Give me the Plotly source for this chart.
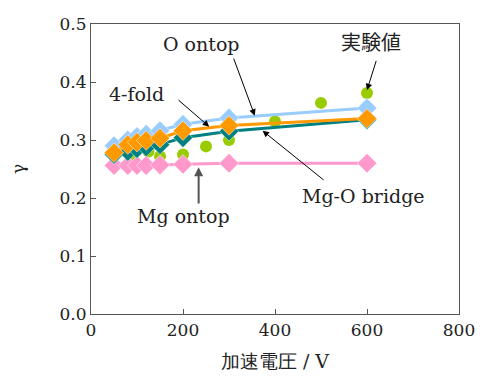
import plotly.graph_objects as go

# Acceleration voltage (V) for the calculated adsorption sites
voltage = [50, 80, 100, 120, 150, 200, 300, 600]
o_ontop = [0.290, 0.300, 0.306, 0.310, 0.316, 0.327, 0.338, 0.355]
four_fold = [0.278, 0.292, 0.296, 0.299, 0.303, 0.316, 0.325, 0.337]
mgo_bridge = [0.275, 0.280, 0.285, 0.288, 0.292, 0.304, 0.315, 0.335]
mg_ontop = [0.256, 0.256, 0.256, 0.256, 0.257, 0.258, 0.260, 0.260]

# Measured secondary electron yield
exp_voltage = [90, 125, 150, 200, 250, 300, 400, 500, 600]
exp_gamma = [0.275, 0.280, 0.272, 0.275, 0.289, 0.300, 0.332, 0.364, 0.381]

x_ticks = [0, 200, 400, 600, 800]
y_ticks = [0.0, 0.1, 0.2, 0.3, 0.4, 0.5]

SERIF = "DejaVu Serif"
CJK = "Noto Sans CJK JP"
INK = "#222222"

fig = go.Figure()

fig.add_trace(go.Scatter(
    x=exp_voltage, y=exp_gamma, mode="markers",
    marker=dict(symbol="circle", size=12, color="#99CC00"),
    name="実験値"))

series = [
    ("Mg ontop", mg_ontop, "#FF99CC"),
    ("O ontop", o_ontop, "#99CCFF"),
    ("Mg-O bridge", mgo_bridge, "#008080"),
    ("4-fold", four_fold, "#FF9900"),
]
for name, vals, col in series:
    fig.add_trace(go.Scatter(
        x=voltage, y=vals, mode="lines+markers", name=name,
        line=dict(color=col, width=3),
        marker=dict(symbol="diamond", size=15, color=col,
                    line=dict(color="white", width=0.5))))

# Labels, with arrows pointing at their curves
labels = [
    ("O ontop", 240, 0.465, SERIF, 19),
    ("実験値", 608, 0.470, CJK, 20),
    ("4-fold", 99, 0.380, SERIF, 19),
    ("Mg-O bridge", 592, 0.203, SERIF, 19),
    ("Mg ontop", 200, 0.169, SERIF, 19),
]
for text, x, y, fam, size in labels:
    fig.add_annotation(x=x, y=y, text=text, showarrow=False,
                       font=dict(family=fam, size=size, color=INK))

arrows = [
    (309, 0.443, 356, 0.342, "black", 1),
    (621, 0.439, 600, 0.386, "black", 1),
    (187, 0.371, 257, 0.323, "black", 1),
    (509, 0.229, 373, 0.316, "black", 1),
    (234, 0.188, 234, 0.253, "#555555", 2),
]
for tx, ty, hx, hy, col, w in arrows:
    fig.add_annotation(x=hx, y=hy, ax=tx, ay=ty, axref="x", ayref="y",
                       text="", showarrow=True, arrowhead=2,
                       arrowsize=1.3 if w == 1 else 0.9,
                       arrowwidth=w, arrowcolor=col)

axis_common = dict(showline=True, linecolor="#555555", linewidth=1.2,
                   mirror=True, ticks="inside", ticklen=5,
                   tickcolor="#555555", showgrid=False, zeroline=False,
                   ticklabeloverflow="allow",
                   tickfont=dict(family=SERIF, size=17, color=INK))

fig.update_xaxes(range=[0, 800], tickvals=x_ticks,
                 title=dict(text="加速電圧 / V",
                            font=dict(family=SERIF, size=19, color=INK),
                            standoff=16),
                 **axis_common)
fig.update_yaxes(range=[0, 0.5], tickvals=y_ticks, tickformat=".1f",
                 ticksuffix="  ",
                 title=dict(text="γ",
                            font=dict(family=SERIF, size=17, color=INK),
                            standoff=30),
                 **axis_common)

fig.update_layout(width=487, height=381, showlegend=False,
                  font=dict(family=SERIF, color=INK),
                  margin=dict(l=91, r=16, t=24, b=64),
                  paper_bgcolor="white", plot_bgcolor="white")

fig.write_html("out.html")
